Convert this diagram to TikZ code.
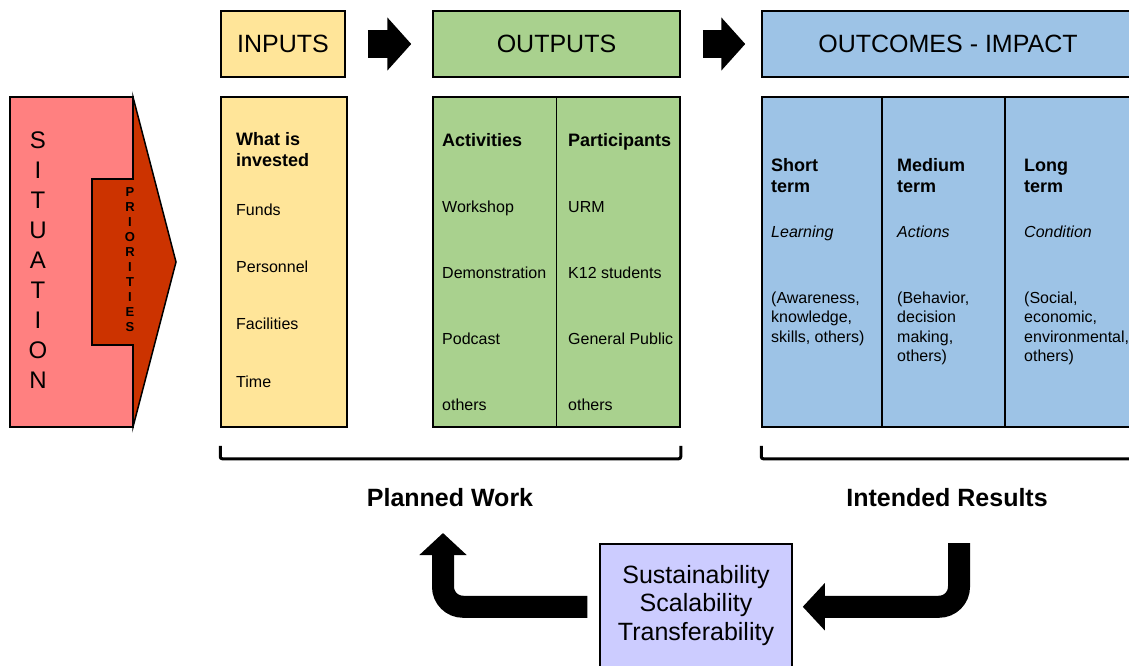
\documentclass[tikz,border=0pt]{standalone}
\usepackage{fontspec}
\setmainfont{Liberation Sans}
\usepackage{tikz}
\usetikzlibrary{arrows.meta, calc, positioning}

\definecolor{sitpink}{HTML}{FF8080}
\definecolor{prired}{HTML}{CC3300}
\definecolor{inyellow}{HTML}{FFE599}
\definecolor{outgreen}{HTML}{A9D18E}
\definecolor{resblue}{HTML}{9DC3E6}
\definecolor{loopviolet}{HTML}{CCCCFF}

\newcommand{\fsz}[2]{\fontsize{#1}{#2}\selectfont}

\tikzset{
  box/.style={draw=black, line width=1.5pt, inner sep=0pt},
  hdr/.style={box, minimum height=66pt, font={\fsz{25}{30}}},
  txt/.style={anchor=base west, inner sep=0pt, align=left, font={\fsz{16}{19.5}}},
  hd/.style={txt, font={\bfseries\fsz{18}{20.5}}},
  em/.style={txt, font={\itshape\fsz{16}{19.5}}},
  bigarrow/.style={line width=28pt, -{Triangle[width=52pt,length=24pt]}},
  looparrow/.style={line width=22pt, rounded corners=20pt, -{Triangle[width=46pt,length=22pt]}},
  bracket/.style={line width=3pt, rounded corners=2pt},
}

\begin{document}
\begin{tikzpicture}[x=1pt, y=-1pt]
    \useasboundingbox (0,0) rectangle (1129,665);
    \clip (0,0) rectangle (1129,665);

    % situation and priorities
    \draw[fill=prired, line width=1.5pt] (133,97) -- (176,262) -- (133,427) -- cycle;
    \node[box, fill=sitpink, minimum width=123pt, minimum height=330pt] (situation) at (71.5,262) {};
    \draw[fill=prired, line width=1.5pt] (134,179) -- (92,179) -- (92,345) -- (134,345);
    \foreach \c [count=\i] in {S,I,T,U,A,T,I,O,N}
        \node[font={\fsz{24}{24}}] (sit\i) at (38,110+30*\i) {\c};
    \foreach \c [count=\i] in {P,R,I,O,R,I,T,I,E,S}
        \node[font={\bfseries\fsz{13}{13}}, inner sep=0pt] (pri\i) at (130,177+15*\i) {\c};

    % headers
    \node[hdr, fill=inyellow, minimum width=124pt] (inputs) at (283,44) {INPUTS};
    \node[hdr, fill=outgreen, minimum width=247pt] (outputs) at (556.5,44) {OUTPUTS};
    \node[hdr, fill=resblue, minimum width=372pt] (outcomes) at (948,44) {OUTCOMES - IMPACT};
    \draw[bigarrow] ([xshift=22pt]inputs.east) -- ([xshift=-21pt]outputs.west);
    \draw[bigarrow] ([xshift=22pt]outputs.east) -- ([xshift=-16pt]outcomes.west);

    % columns
    \node[box, fill=inyellow, minimum width=126pt, minimum height=330pt] (invested) at (284,262) {};
    \node[box, fill=outgreen, minimum width=247pt, minimum height=330pt] (activities) at (556.5,262) {};
    \draw[line width=1.5pt] (activities.north) -- (activities.south);
    \node[box, fill=resblue, minimum width=372pt, minimum height=330pt] (results) at (948,262) {};
    \foreach \x in {882,1005}
        \draw[line width=1.5pt] (\x,97) -- (\x,427);

    % multi-line texts sit on their last baseline
    \node[hd] (whatis) at (236,166) {What is\\invested};
    \foreach \t [count=\i] in {Funds,Personnel,Facilities,Time}
        \node[txt] (fund\i) at (236,158+57.3*\i) {\t};
    \node[hd] (acts) at (442,146) {Activities};
    \foreach \t [count=\i] in {Workshop,Demonstration,Podcast,others}
        \node[txt] (act\i) at (442,146+66*\i) {\t};
    \node[hd] (parts) at (568,146) {Participants};
    \foreach \t [count=\i] in {URM,K12 students,General Public,others}
        \node[txt] (part\i) at (568,146+66*\i) {\t};

    \node[hd] (short) at (771,192) {Short\\term};
    \node[em] (learning) at (771,237) {Learning};
    \node[txt] (awareness) at (771,342) {(Awareness,\\knowledge,\\skills, others)};
    \node[hd] (medium) at (897,192) {Medium\\term};
    \node[em] (actions) at (897,237) {Actions};
    \node[txt] (behavior) at (897,361.5) {(Behavior,\\decision\\making,\\others)};
    \node[hd] (long) at (1024,192) {Long\\term};
    \node[em] (condition) at (1024,237) {Condition};
    \node[txt] (social) at (1024,361.5) {(Social,\\economic,\\environmental,\\others)};

    % brackets
    \draw[bracket] ([yshift=-18pt]invested.south west) -- ([yshift=-31pt]invested.south west)
        -| ([yshift=-18pt]activities.south east);
    \draw[bracket] ([yshift=-18pt]results.south west) -- ++(0,13) -- ++(400,0);
    \node[font={\bfseries\fsz{25}{25}}, anchor=base] (planned) at (450,506) {Planned Work};
    \node[font={\bfseries\fsz{25}{25}}, anchor=base] (intended) at (947,506) {Intended Results};

    % feedback loop
    \node[box, fill=loopviolet, minimum width=192pt, minimum height=126pt, anchor=north] (loop) at (696,543) {};
    \node[font={\fsz{25}{28.5}}, align=center, anchor=base] (sust) at (696,640) {Sustainability\\Scalability\\Transferability};
    \coordinate (back) at (443,533);
    \coordinate (feed) at (959,543);
    \draw[looparrow] ([xshift=-12pt]loop.west) -| (back);
    \draw[looparrow] (feed) |- ([xshift=10pt]loop.east);
\end{tikzpicture}
\end{document}
